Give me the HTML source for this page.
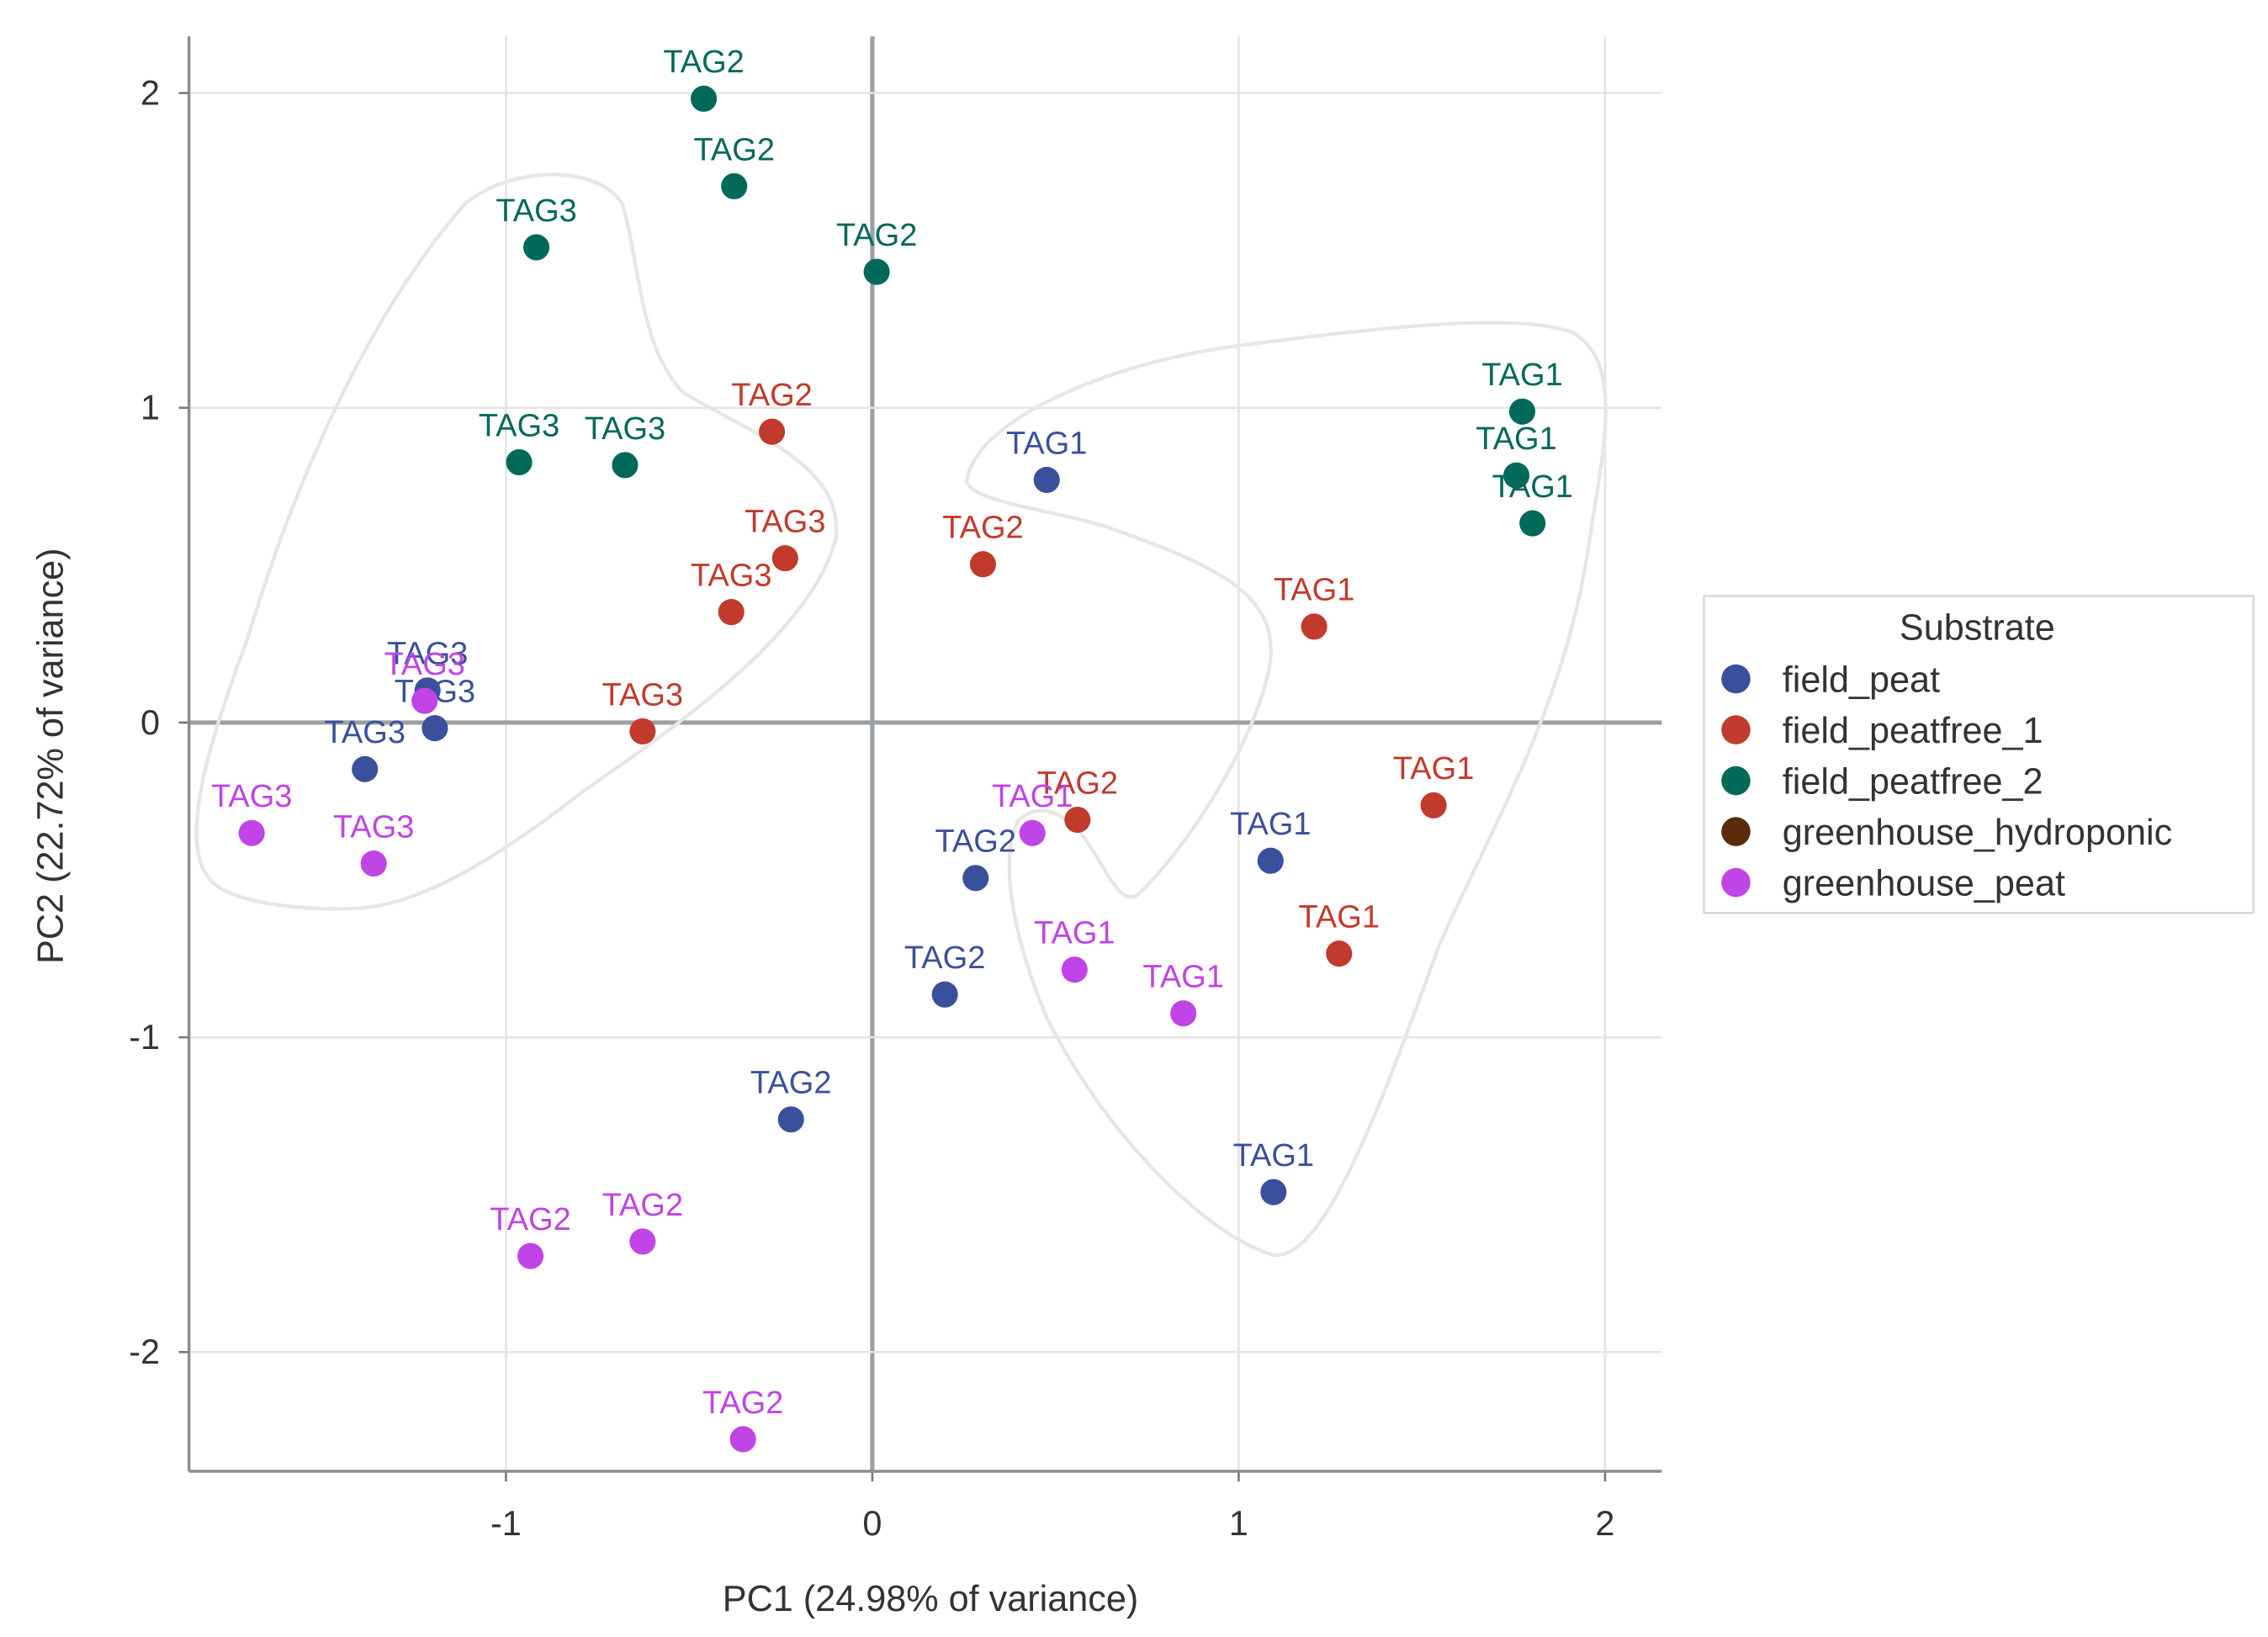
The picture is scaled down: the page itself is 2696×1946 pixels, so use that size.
<!DOCTYPE html>
<html><head><meta charset="utf-8"><style>
html,body{margin:0;padding:0;background:#fff;}
svg{display:block;font-family:"Liberation Sans",Arial,sans-serif;}
</style></head><body>
<svg id="chart" width="2696" height="1946" viewBox="0 0 1560 1126">
<rect width="1560" height="1126" fill="#fff"/>
<g id="grid"></g>
<g>
<path fill="none" stroke="#e6e6e6" stroke-width="2.5" d="M150,610 C120,590 140,520 170,440 C200,340 250,220 320,140 C350,115 410,112 428,140 C440,180 440,240 470,270 C520,300 580,320 575,370 C560,430 480,490 400,545 C330,600 280,625 240,625 C200,626 165,620 150,610 Z"/>
<path fill="none" stroke="#e6e6e6" stroke-width="2.5" d="M665,331 C670,290 760,250 850,238 C950,225 1040,215 1080,228 C1115,245 1105,300 1095,360 C1080,480 1030,560 990,650 C950,760 910,870 875,863 C830,850 760,780 720,700 C695,640 688,590 700,565 C712,553 728,555 745,575 C760,595 770,625 783,615 C810,590 860,520 873,460 C882,410 840,390 760,362 C720,350 668,345 665,331 Z"/>
</g>
<g id="marks"></g>
<g id="axes"></g>
<g>
<rect x="1172" y="410" width="378" height="218" fill="#fff" stroke="#d9d9d9" stroke-width="1.5"/>
<text x="1360" y="440" font-size="25" text-anchor="middle" fill="#333">Substrate</text>
<g id="legend-entries"></g>
</g>
<text x="640" y="1108" font-size="25" text-anchor="middle" fill="#333">PC1 (24.98% of variance)</text>
<text transform="translate(43,520) rotate(-90)" font-size="25" text-anchor="middle" fill="#333">PC2 (22.72% of variance)</text>
</svg>
<script>
const groups = ["field_peat","field_peatfree_1","field_peatfree_2","greenhouse_hydroponic","greenhouse_peat"];
const groupColors = ["#3b509c","#c23a2c","#00695a","#5a2a0a","#c044e6"];
const pc1_field_peat = [0.476,-1.214,-1.194,-1.385,0.282,1.087,0.198,-0.222,1.095];
const pc2_field_peat = [0.771,0.102,-0.018,-0.148,-0.494,-0.439,-0.864,-1.261,-1.492];
const lab_field_peat = ["TAG1","TAG3","TAG3","TAG3","TAG2","TAG1","TAG2","TAG2","TAG1"];
const pc1_peatfree_1 = [-0.274,-0.238,-0.385,-0.627,0.302,1.206,0.560,1.532,1.274];
const pc2_peatfree_1 = [0.924,0.522,0.351,-0.028,0.503,0.305,-0.309,-0.263,-0.734];
const lab_peatfree_1 = ["TAG2","TAG3","TAG3","TAG3","TAG2","TAG1","TAG2","TAG1","TAG1"];
const pc1_peatfree_2 = [-0.460,-0.377,0.012,-0.917,-0.964,-0.675,1.774,1.758,1.802];
const pc2_peatfree_2 = [1.982,1.704,1.432,1.510,0.827,0.818,0.988,0.785,0.633];
const lab_peatfree_2 = ["TAG2","TAG2","TAG2","TAG3","TAG3","TAG3","TAG1","TAG1","TAG1"];
const pc1_gh_peat = [-1.222,-1.694,-1.361,0.437,0.552,0.849,-0.933,-0.627,-0.353];
const pc2_gh_peat = [0.069,-0.351,-0.448,-0.351,-0.785,-0.924,-1.695,-1.649,-2.277];
const lab_gh_peat = ["TAG3","TAG3","TAG3","TAG1","TAG1","TAG1","TAG2","TAG2","TAG2"];
const xTicks = [-1,0,1,2];
const yTicks = [-2,-1,0,1,2];
const xTickLabels = ["-1","0","1","2"];
const yTickLabels = ["-2","-1","0","1","2"];

const NS="http://www.w3.org/2000/svg";
const X0=600, XS=252, Y0=497, YS=216.5, L=130, R=1143, T=25, B=1012;
const sx=v=>X0+v*XS, sy=v=>Y0-v*YS;
function mk(tag,attrs,parent){const e=document.createElementNS(NS,tag);for(const k in attrs)e.setAttribute(k,attrs[k]);parent.appendChild(e);return e;}
const grid=document.getElementById('grid'), axes=document.getElementById('axes'), marks=document.getElementById('marks');
xTicks.forEach((t,i)=>{
  const g=mk('line',{x1:sx(t),x2:sx(t),y1:T,y2:B,stroke:t===0?'#9aa0a4':'#e4e4e4','stroke-width':t===0?3:1.5},grid);
  
  
  const tl=mk('text',{x:sx(t),y:1056,'font-size':24,'text-anchor':'middle',fill:'#333'},axes);
  tl.textContent=xTickLabels[i];
  
  
  const tk=mk('line',{x1:sx(t),x2:sx(t),y1:B,y2:B+7,stroke:'#777','stroke-width':1.5},axes);
  
  
});
yTicks.forEach((t,i)=>{
  const g=mk('line',{x1:L,x2:R,y1:sy(t),y2:sy(t),stroke:t===0?'#9aa0a4':'#e4e4e4','stroke-width':t===0?3:1.5},grid);
  
  
  const tl=mk('text',{x:110,y:sy(t)+8,'font-size':24,'text-anchor':'end',fill:'#333'},axes);
  tl.textContent=yTickLabels[i];
  
  
  const tk=mk('line',{x1:L-7,x2:L,y1:sy(t),y2:sy(t),stroke:'#777','stroke-width':1.5},axes);
  
  
});
const ax1=mk('line',{x1:L,x2:L,y1:T,y2:B,stroke:'#8c8c8c','stroke-width':2},axes);


const ax2=mk('line',{x1:L,x2:R,y1:B,y2:B,stroke:'#8c8c8c','stroke-width':2},axes);



const series=[[pc1_field_peat,pc2_field_peat,lab_field_peat,0],[pc1_peatfree_1,pc2_peatfree_1,lab_peatfree_1,1],[pc1_peatfree_2,pc2_peatfree_2,lab_peatfree_2,2],[pc1_gh_peat,pc2_gh_peat,lab_gh_peat,4]];
series.forEach(([xs,ys,ls,gi])=>{
  xs.forEach((x,i)=>{
    const c=mk('circle',{cx:sx(x),cy:sy(ys[i]),r:9,fill:groupColors[gi]},marks);
    
    
    const t=mk('text',{x:sx(x),y:sy(ys[i])-18,'font-size':22,'text-anchor':'middle',fill:groupColors[gi]},marks);
    t.textContent=ls[i];
    
    
  });
});
const le=document.getElementById('legend-entries');
groups.forEach((g,i)=>{
  const y=467+i*35;
  const c=mk('circle',{cx:1194,cy:y,r:10,fill:groupColors[i]},le);
  
  
  const t=mk('text',{x:1226,y:y+9,'font-size':25,fill:'#333'},le);
  t.textContent=g;
  
  
});
</script>
</body></html>
